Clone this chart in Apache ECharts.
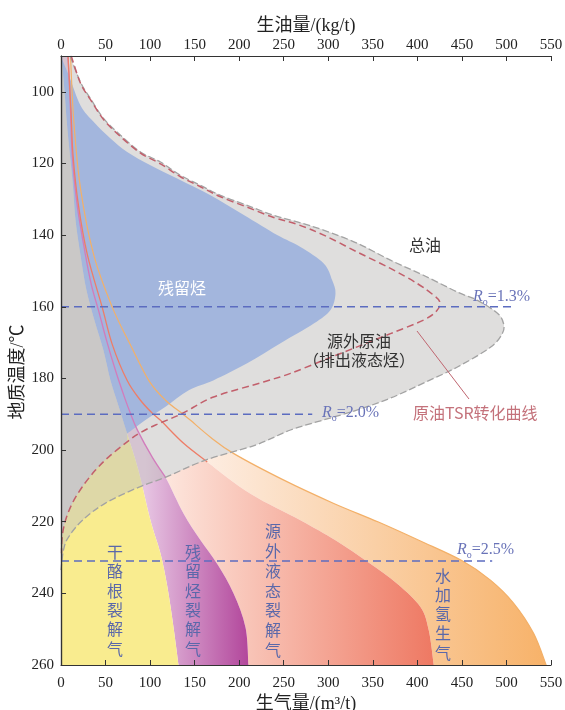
<!DOCTYPE html>
<html><head><meta charset="utf-8">
<script src="https://cdn.jsdelivr.net/npm/echarts@6/dist/echarts.min.js"></script>
<style>html,body{margin:0;padding:0;background:#fff}#c{width:565px;height:710px}</style>
</head><body><div id="c"></div>
<script>
// ---------------- data (x: yield, y: geological temperature °C) ----------------
const yTickValues = [100, 120, 140, 160, 180, 200, 220, 240, 260];

// total oil envelope (outer grey dashed curve), split where the residual-gas boundary meets it
const totalOilMain = [[10.2,90],[21.9,97.3],[33.1,101.9],[48.0,107.5],[66.8,112.1],[89.2,116.8],[111.7,119.6],[134.1,123.3],[156.5,126.1],[179.0,128.9],[209.0,131.7],[238.8,134.5],[265.1,136.3],[294.6,138.6],[332.8,142.3],[369.8,147.0],[406.8,151.2],[445.0,155.9],[467.5,158.2],[489.9,161.8],[496.6,164.6],[495.5,167.4],[482.0,171.3],[445.0,176.8],[406.8,181.3],[369.8,185.5],[332.8,188.8],[294.6,191.6],[257.6,194.4],[218.3,198.6],[162.2,202.8],[117.3,207.6]];
const totalOilTail = [[117.3,207.6],[87.0,210.4],[49.9,214.8],[24.1,219.6],[8.4,224.3],[2.8,227.9],[0,233.5]];

// crude-oil TSR conversion curve (red dashed)
const tsrOuter = [[11.5,90],[21.9,97.6],[33.1,102.2],[48.0,107.8],[66.8,112.5],[89.2,117.1],[111.7,120.1],[134.1,123.7],[156.5,126.5],[179.0,129.3],[209.0,132.2],[238.8,135.1],[265.1,137.0],[294.9,140.0],[332.4,144.7],[369.8,149.3],[399.8,153.5],[418.4,156.8],[425.1,158.6],[422.2,161.0],[407.2,163.7],[369.8,167.5],[332.4,171.2],[294.9,174.9],[257.6,178.6],[227.3,181.0],[171.2,185.2],[136.0,189.8],[106.1,193.0],[87.3,195.4]];
const tsrInner = [[74.3,197.7],[53.6,201.9],[38.7,205.6],[23.8,210.3],[12.6,214.9],[5.1,219.6],[1.3,224.2],[0.6,228.8]];

// residual hydrocarbons (blue) outline, from top-left round the tip to the kerogen-gas boundary
const residualOutline = [[0.6,90.6],[8.8,95.4],[21.9,103.8],[36.8,108.4],[55.6,113.0],[74.3,116.8],[100.4,120.5],[130.4,124.2],[167.8,128.9],[205.2,134.4],[242.6,140.0],[268.8,143.3],[294.9,147.9],[304.4,152.6],[308.1,156.3],[302.5,160.9],[283.7,164.7],[246.4,170.2],[209.0,175.8],[171.5,180.5],[143.4,183.3],[117.3,187.9],[94.8,191.6],[74.3,195.4]];

// cumulative gas boundaries (m3/t)
const gasB1Upper = [[0.6,90.1],[3.9,99.6],[7.3,110.7],[12.9,124.7],[16.3,135.8],[21.9,145.6],[28.6,155.4],[37.6,163.8],[47.7,172.2],[55.6,180.6],[64.5,187.6],[74.3,195.4]];
const gasB1Lower = [[74.3,195.4],[87.0,205.8],[100.4,219.6],[111.7,228.9],[119.5,238.3],[126.3,249.5],[131.9,260]];
const gasB2Upper = [[7.9,90.1],[10.7,105.2],[12.6,117.7],[18.2,131.7],[27.5,145.6],[34.2,154.0],[42.1,161.0],[51.1,169.4],[61.2,177.8],[71.3,185.3],[78.0,189.8],[85.9,194.5],[102.7,202.1],[117.3,207.6]];
const gasB2Lower = [[117.3,207.6],[137.5,217.7],[156.6,225.2],[175.6,231.9],[193.6,240.0],[207.1,249.5],[210.4,260]];
const gasB3Upper = [[7.9,90.1],[11.2,105.2],[13.5,117.7],[19.6,131.7],[29.7,145.6],[46.2,160.1],[57.8,170.7],[74.3,180.6],[89.2,186.1],[102.4,189.7],[111.7,191.7],[137.9,198.2],[164.1,203.3]];
const gasB3Lower = [[164.1,203.3],[212.7,212.2],[268.8,219.6],[308.1,225.2],[345.2,231.4],[377.4,237.3],[403.5,243.8],[412.8,250.3],[418.4,260]];
const gasB4 = [[10.7,90.1],[14.4,108.4],[21.9,127.0],[36.8,145.6],[57.5,160.1],[78.0,170.7],[98.6,180.6],[117.3,186.1],[136.0,189.8],[145.4,191.7],[167.8,196.4],[194.0,201.0],[250.1,208.4],[306.2,214.9],[356.3,220.1],[403.5,225.4],[450.3,230.9],[482.0,236.3],[507.9,242.7],[530.3,251.1],[544.6,260]];

// vitrinite reflectance reference lines
const roValues = ['1.3', '2.0', '2.5'];
const roTemps = [160, 190, 231];
const roLineEnds = [510, 282, 484];

// ---------------- drawing helpers ----------------
const Y_MIN = 90, Y_MAX = 260;
const b1Full = gasB1Upper.concat(gasB1Lower.slice(1));
const b2Full = gasB2Upper.concat(gasB2Lower.slice(1));
const b3Full = gasB3Upper.concat(gasB3Lower.slice(1));
const oilFull = totalOilMain.concat(totalOilTail.slice(1));
const tsrFull = tsrOuter.concat(tsrInner);
const rev = a => a.slice().reverse();

function f(n){ return n.toFixed(2); }
function pathFrom(api, pieces, close) {
  let d = '', started = false;
  pieces.forEach(pc => {
    const px = pc.pts.map(p => api.coord(p));
    if (!px.length) return;
    d += (started ? 'L' : 'M') + f(px[0][0]) + ' ' + f(px[0][1]);
    started = true;
    if (pc.smooth && px.length > 2) {
      for (let i = 0; i < px.length - 1; i++) {
        const p0 = px[i-1] || px[i], p1 = px[i], p2 = px[i+1], p3 = px[i+2] || px[i+1];
        const c1x = p1[0] + (p2[0]-p0[0])/6, c1y = p1[1] + (p2[1]-p0[1])/6;
        const c2x = p2[0] - (p3[0]-p1[0])/6, c2y = p2[1] - (p3[1]-p1[1])/6;
        d += 'C' + f(c1x) + ' ' + f(c1y) + ' ' + f(c2x) + ' ' + f(c2y) + ' ' + f(p2[0]) + ' ' + f(p2[1]);
      }
    } else {
      for (let i = 1; i < px.length; i++) d += 'L' + f(px[i][0]) + ' ' + f(px[i][1]);
    }
  });
  if (close) d += 'Z';
  return d;
}
const S = pts => ({pts, smooth: true});
const P = pts => ({pts, smooth: false});

function shapeSeries(name, z, build) {
  return {
    type: 'custom', name, z, silent: true, clip: false, animation: false,
    coordinateSystem: 'cartesian2d', xAxisIndex: 0, yAxisIndex: 0,
    data: [[0, Y_MIN]],
    renderItem: (params, api) => {
      const o = build(api);
      return { type: 'path', shape: { pathData: o.d }, style: o.style };
    }
  };
}
function hGrad(api, x0, x1, c0, c1) {
  const p0 = api.coord([x0, Y_MIN])[0], p1 = api.coord([x1, Y_MIN])[0];
  return new echarts.graphic.LinearGradient(p0, 0, p1, 0, [{offset:0, color:c0},{offset:1, color:c1}], true);
}
const GREY = '#dfdedd';

const series = [
  shapeSeries('水加氢生气', 1, api => ({
    d: pathFrom(api, [S(b3Full), S(rev(gasB4))], true),
    style: { fill: hGrad(api, 160, 545, '#fdede2', '#f7b269') }
  })),
  shapeSeries('源外液态裂解气', 2, api => ({
    d: pathFrom(api, [S(b2Full), S(rev(b3Full))], true),
    style: { fill: hGrad(api, 115, 420, '#fde7de', '#ee7862') }
  })),
  shapeSeries('残留烃裂解气', 3, api => ({
    d: pathFrom(api, [S(b1Full), S(rev(b2Full))], true),
    style: { fill: hGrad(api, 95, 211, '#e6c4e2', '#b2469b') }
  })),
  shapeSeries('干酪根裂解气', 4, api => ({
    d: pathFrom(api, [P([[0, Y_MIN]]), S(b1Full), P([[0, Y_MAX]])], true),
    style: { fill: '#f9ec8f' }
  })),
  shapeSeries('总油叠加', 5, api => ({
    d: pathFrom(api, [S(oilFull), P([[0, Y_MIN]])], true),
    style: { fill: '#c4c4bf', opacity: 0.5 }
  })),
  shapeSeries('总油', 6, api => ({
    d: pathFrom(api, [S(gasB2Upper), S(rev(totalOilMain))], true),
    style: { fill: GREY }
  })),
  shapeSeries('深灰', 7, api => ({
    d: pathFrom(api, [P([[0, Y_MIN]]), S(gasB1Upper), S(tsrInner), P([[0, tsrInner[tsrInner.length-1][1]]])], true),
    style: { fill: '#cac8c7' }
  })),
  shapeSeries('残留烃', 8, api => ({
    d: pathFrom(api, [S(residualOutline), S(rev(gasB1Upper))], true),
    style: { fill: '#a3b6dd' }
  })),
  shapeSeries('B2线', 9, api => ({
    d: pathFrom(api, [S(gasB2Upper)], false),
    style: { fill: 'none', stroke: '#d27cbc', lineWidth: 1.3 }
  })),
  shapeSeries('B3线', 9, api => ({
    d: pathFrom(api, [S(gasB3Upper)], false),
    style: { fill: 'none', stroke: '#ee7d67', lineWidth: 1.3 }
  })),
  shapeSeries('B4线', 9, api => ({
    d: pathFrom(api, [S(gasB4)], false),
    style: { fill: 'none', stroke: '#f3b068', lineWidth: 1.2 }
  })),
  shapeSeries('总油边界', 10, api => ({
    d: pathFrom(api, [S(oilFull)], false),
    style: { fill: 'none', stroke: '#a3a3a3', lineWidth: 1.3, lineDash: [7, 3] }
  })),
  shapeSeries('原油TSR转化曲线', 11, api => ({
    d: pathFrom(api, [S(tsrFull)], false),
    style: { fill: 'none', stroke: '#c25f6b', lineWidth: 1.5, lineDash: [7, 4] }
  }))
];
roTemps.forEach((t, i) => {
  series.push({
    type: 'line', name: 'Ro' + roValues[i], z: 12, silent: true, animation: false,
    xAxisIndex: 0, yAxisIndex: 0, symbol: 'none',
    data: [[0, t], [roLineEnds[i], t]],
    lineStyle: { color: '#5c6cc0', width: 1.5, type: [8, 5] }
  });
});

// ---------------- annotations ----------------
const CJK = "'Noto Sans CJK SC', sans-serif";
const SERIF = "'Liberation Serif', 'Noto Sans CJK SC', serif";
function txt(text, x, y, color, size, align, valign, extra) {
  return Object.assign({
    type: 'text', x, y, z: 100, silent: true,
    style: { text, fill: color, font: size + 'px ' + CJK, align: align, verticalAlign: valign,
             textAlign: align, textVerticalAlign: valign }
  }, extra || {});
}
function vtxt(text, x, yTop, lh) {
  const t = txt(text.split('').join('\n'), x, yTop, '#5a68aa', 16, 'center', 'top');
  t.style.lineHeight = lh;
  return t;
}
function roLabel(i, x, y) {
  const c = '#6973b8';
  return {
    type: 'text', x, y, z: 100, silent: true,
    style: {
      text: '{r|R}{s|o}{n|=' + roValues[i] + '%}',
      align: 'left', verticalAlign: 'middle', textAlign: 'left', textVerticalAlign: 'middle',
      rich: {
        r: { fontFamily: 'Liberation Serif', fontStyle: 'italic', fontSize: 16, fill: c, color: c, lineHeight: 20 },
        s: { fontFamily: 'Liberation Serif', fontSize: 10, fill: c, color: c, lineHeight: 12, verticalAlign: 'bottom' },
        n: { fontFamily: 'Liberation Serif', fontSize: 16, fill: c, color: c, lineHeight: 20 }
      }
    }
  };
}

const graphic = [
  txt('残留烃', 182, 288, '#ffffff', 16, 'center', 'middle'),
  txt('总油', 425, 245, '#333333', 16, 'center', 'middle'),
  txt('源外原油', 359, 341, '#333333', 16, 'center', 'middle'),
  txt('（排出液态烃）', 359, 360, '#333333', 16, 'center', 'middle'),
  txt('原油TSR转化曲线', 413, 413, '#c4727b', 16, 'left', 'middle'),
  { type: 'line', z: 99, silent: true, shape: { x1: 417, y1: 331, x2: 469, y2: 399 }, style: { stroke: '#c06670', lineWidth: 1 } },
  vtxt('干酪根裂解气', 115, 542, 19.4),
  vtxt('残留烃裂解气', 193, 542, 19.4),
  vtxt('源外液态裂解气', 273, 521.5, 19.75),
  vtxt('水加氢生气', 443, 566.5, 19.1),
  roLabel(0, 473, 297),
  roLabel(1, 322, 413),
  roLabel(2, 457, 550),
  { type: 'text', x: 18, y: 372, rotation: Math.PI / 2, z: 100, silent: true,
    style: { text: '地质温度/℃', fill: '#222', font: '18px ' + SERIF,
             align: 'center', verticalAlign: 'middle', textAlign: 'center', textVerticalAlign: 'middle' } }
];

// ---------------- axes ----------------
const axisLine = { show: true, lineStyle: { color: '#333', width: 1.2 } };
const axisTick = { show: true, inside: true, length: 5, lineStyle: { color: '#333', width: 1 } };
const axisLabel = { fontFamily: 'Liberation Serif', fontSize: 15, color: '#222' };
const nameStyle = { fontFamily: SERIF, fontSize: 18, color: '#222' };

const option = {
  animation: false,
  backgroundColor: '#fff',
  grid: { left: 61, right: 14, top: 56, bottom: 45, containLabel: false, outerBoundsMode: 'none' },
  xAxis: [
    { type: 'value', position: 'bottom', min: 0, max: 550, interval: 50, z: 20,
      axisLine, axisTick, axisLabel: Object.assign({ margin: 11 }, axisLabel), splitLine: { show: false },
      name: '生气量/(m³/t)', nameLocation: 'middle', nameGap: 30, nameMoveOverlap: false, nameTextStyle: nameStyle },
    { type: 'value', position: 'top', min: 0, max: 550, interval: 50, z: 20,
      axisLine, axisTick, axisLabel: Object.assign({ margin: 3 }, axisLabel), splitLine: { show: false },
      name: '生油量/(kg/t)', nameLocation: 'middle', nameGap: 21, nameMoveOverlap: false, nameTextStyle: nameStyle }
  ],
  yAxis: [
    { type: 'value', position: 'left', inverse: true, min: Y_MIN, max: Y_MAX, z: 20,
      axisLine, axisTick: Object.assign({ customValues: yTickValues }, axisTick),
      axisLabel: Object.assign({ margin: 7, customValues: yTickValues }, axisLabel),
      splitLine: { show: false } },
    { type: 'value', position: 'right', inverse: true, min: Y_MIN, max: Y_MAX, z: 20,
      axisLine, axisTick: { show: false }, axisLabel: { show: false }, splitLine: { show: false } }
  ],
  series,
  graphic
};

const chart = echarts.init(document.getElementById('c'), null, { renderer: 'canvas' });
chart.setOption(option);
</script>
</body></html>
